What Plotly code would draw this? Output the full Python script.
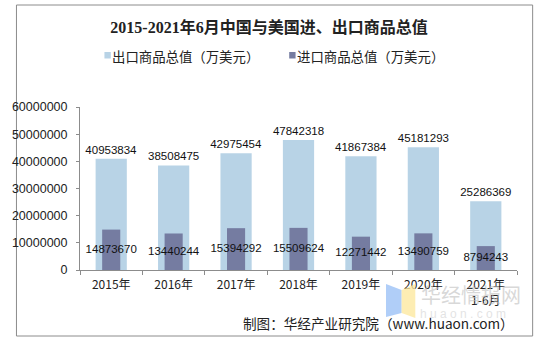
import plotly.graph_objects as go

# Data: China-US trade in goods, 10k USD
years = ["2015年", "2016年", "2017年", "2018年", "2019年", "2020年", "2021年<br>1-6月"]
exports = [40953834, 38508475, 42975454, 47842318, 41867384, 45181293, 25286369]
imports = [14873670, 13440244, 15394292, 15509624, 12271442, 13490759, 8794243]

title_text = "2015-2021年6月中国与美国进、出口商品总值"
export_name = "出口商品总值（万美元）"
import_name = "进口商品总值（万美元）"
source_text = "制图：华经产业研究院（www.huaon.com）"

EXPORT_COLOR = "#B8D3E6"
IMPORT_COLOR = "#757CA1"

W, H = 538, 341
L, R, T, B = 70, 21, 107, 71
PW, PH = W - L - R, H - T - B


def px(x):
    return (x - L) / PW


def py(y):
    return (H - B - y) / PH


FONT = "Liberation Sans, Arial, Noto Sans CJK SC, sans-serif"
CJK = "Noto Sans CJK SC, Liberation Sans, sans-serif"

fig = go.Figure()
fig.add_trace(go.Bar(
    x=years, y=exports, name=export_name, width=0.5,
    marker=dict(color=EXPORT_COLOR, line=dict(width=0)),
    text=[str(v) for v in exports], textposition="outside",
    textfont=dict(family=FONT, size=11.5, color="#111"),
    cliponaxis=False, constraintext="none", showlegend=False,
))
fig.add_trace(go.Bar(
    x=years, y=imports, name=import_name, width=0.29,
    marker=dict(color=IMPORT_COLOR, line=dict(width=0)),
    showlegend=False,
))
# import value labels centred on the import bars
fig.add_trace(go.Scatter(
    x=years, y=[v / 2 for v in imports], mode="text",
    text=[str(v) for v in imports], textposition="middle center",
    textfont=dict(family=FONT, size=11.5, color="#111"),
    showlegend=False, hoverinfo="skip", cliponaxis=False,
))

shapes = [
    # outer frame
    dict(type="rect", xref="paper", yref="paper",
         x0=px(5), x1=px(533), y0=py(336), y1=py(5),
         line=dict(color="#8c8c8c", width=1), layer="below"),
]


def poly(points):
    return "M " + " L ".join(f"{px(a)},{py(b)}" for a, b in points) + " Z"


# watermark logo
shapes.append(dict(type="path", xref="paper", yref="paper",
                   path=poly([(383, 284), (399, 290), (399, 313), (383, 317)]),
                   fillcolor="rgba(150,190,245,0.75)", line=dict(width=0)))
shapes.append(dict(type="path", xref="paper", yref="paper",
                   path=poly([(399, 290), (413, 284), (413, 318), (399, 313)]),
                   fillcolor="rgba(253,232,160,0.8)", line=dict(width=0)))

annotations = []

# legend: small square swatch followed by the series name
legend_items = [(export_name, EXPORT_COLOR, 95), (import_name, IMPORT_COLOR, 284)]
for name, color, x0 in legend_items:
    shapes.append(dict(type="rect", xref="paper", yref="paper",
                       x0=px(x0), x1=px(x0 + 6.5), y0=py(58.5), y1=py(52),
                       fillcolor=color, line=dict(width=0)))
    annotations.append(dict(text=name, xref="paper", yref="paper",
                            x=px(x0 + 6.5), y=py(55.5), showarrow=False,
                            xanchor="left", yanchor="middle", borderpad=0,
                            font=dict(family=CJK, size=13.4, color="#222")))

annotations += [
    dict(text="华经情报网", xref="paper", yref="paper", x=px(470), y=py(294),
         showarrow=False, font=dict(family=CJK, size=20, color="rgba(190,190,190,0.6)"),
         xanchor="center", yanchor="middle"),
    dict(text="h u a o n . c o m", xref="paper", yref="paper", x=px(462), y=py(314),
         showarrow=False, font=dict(family=FONT, size=12, color="rgba(200,200,200,0.5)"),
         xanchor="center", yanchor="middle"),
    dict(text=source_text, xref="paper", yref="paper", x=px(515), y=py(323),
         showarrow=False, font=dict(family=CJK, size=13.6, color="#222"),
         xanchor="right", yanchor="middle", borderpad=0),
]

fig.update_layout(
    width=W, height=H,
    margin=dict(l=L, r=R, t=T, b=B),
    paper_bgcolor="white", plot_bgcolor="white",
    barmode="overlay",
    title=dict(text=f"<b>{title_text}</b>", x=0.5, xanchor="center",
               y=1 - 27.5 / H, yanchor="middle",
               font=dict(family="Liberation Serif, Noto Sans CJK SC, serif", size=16, color="#222")),
    shapes=shapes, annotations=annotations,
    showlegend=False,
)
fig.update_xaxes(
    type="category", showline=True, linecolor="#8c8c8c", linewidth=1,
    ticks="outside", tickson="boundaries", ticklen=4, tickcolor="#8c8c8c",
    ticklabelstandoff=4,
    tickfont=dict(family=CJK, size=12, color="#222"), showgrid=False,
)
fig.update_yaxes(
    range=[0, 60000000], dtick=10000000, tickformat="d",
    showline=True, linecolor="#8c8c8c", linewidth=1,
    ticks="outside", ticklen=3, tickcolor="#8c8c8c",
    ticklabelstandoff=6,
    tickfont=dict(family=FONT, size=12.5, color="#222"),
    showgrid=False, zeroline=False,
)

fig.write_html("out.html")
